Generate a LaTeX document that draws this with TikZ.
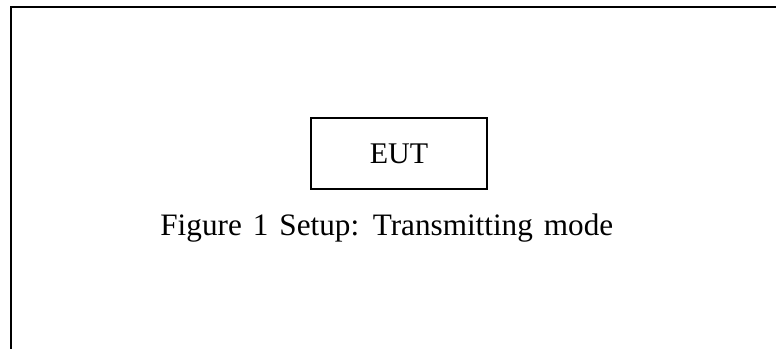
\documentclass[tikz,border=0pt]{standalone}
\usepackage{fontspec}
\setmainfont{Liberation Serif}
\usepackage{xcolor}
\usetikzlibrary{positioning}
\definecolor{ink}{HTML}{000000}
\newcommand\capfont{\fontsize{15.6}{18}\selectfont\spaceskip=5.5pt\relax}
\tikzset{
  framerule/.style={draw=ink,line width=1pt},
  eutbox/.style={draw=ink,line width=1pt,
                 minimum width=88pt,minimum height=35.5pt,
                 inner sep=0pt,font=\fontsize{15}{18}\selectfont},
  caption/.style={inner sep=0pt,anchor=base west,font=\capfont}
}
\begin{document}
\begin{tikzpicture}[x=0.5pt,y=-0.5pt]
  \useasboundingbox (0,0) rectangle (776,349);
  % open frame: top and left edges only
  \coordinate (tl) at (11,7);
  \draw[framerule] (776,7) -- (tl) -- (11,349);
  \node[eutbox] (eut) at (399,153.5) {EUT};
  \node[caption] (cap) at (160,235) {Figure 1 Setup: Transmitting mode};
\end{tikzpicture}
\end{document}
